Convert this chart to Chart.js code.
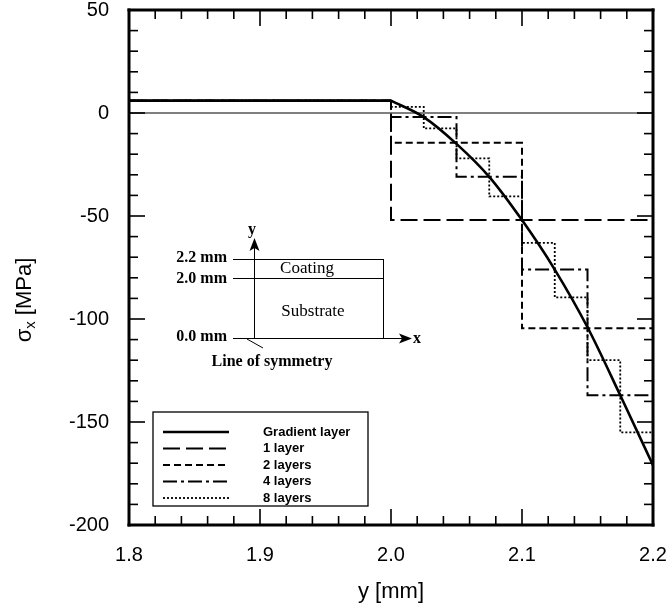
<!DOCTYPE html>
<html>
<head>
<meta charset="utf-8">
<script src="https://cdn.jsdelivr.net/npm/chart.js@4.4.0/dist/chart.umd.min.js"></script>
<style>
  html, body { margin: 0; padding: 0; background: #fff; overflow: hidden; }
  canvas { display: block; }
</style>
</head>
<body>
<canvas id="stressChart" width="668" height="609"></canvas>
<script>
// === DATA ===
const xTicks = [1.8, 1.9, 2.0, 2.1, 2.2];
const yTicks = [50, 0, -50, -100, -150, -200];
const xMinorStep = 0.02;
const yMinorStep = 10;

const substrateX = [1.8, 2.0];
const substrateY = [6, 6];
const zeroX = [1.8, 2.2];
const zeroY = [0, 0];

const gradientX = [2.0, 2.025, 2.05, 2.075, 2.1, 2.125, 2.15, 2.175, 2.2];
const gradientY = [6, -2, -15, -31, -52, -76, -104, -137, -171];

// stress per layer in the coating (2.0 .. 2.2 mm), equal layer thickness
const layer1 = [-52];
const layers2 = [-14.5, -104.5];
const layers4 = [-2, -31, -76, -137];
const layers8 = [3, -7.5, -22, -40.5, -63, -89.5, -120, -155];

const legendLabels = ['Gradient layer', '1 layer', '2 layers', '4 layers', '8 layers'];

// === HELPERS ===
function toPoints(xs, ys) {
    return xs.map((x, i) => ({ x, y: ys[i] }));
}

function stepPoints(vals) {
    const w = 0.2 / vals.length;
    const pts = [{ x: 1.8, y: substrateY[0] }];
    vals.forEach((v, i) => pts.push({ x: 2.0 + i * w, y: v }));
    pts.push({ x: 2.2, y: vals[vals.length - 1] });
    return pts;
}

const FONT = "'Liberation Sans', Arial, sans-serif";
const SERIF = "'Liberation Serif', 'Times New Roman', serif";

// === PLUGINS ===
const framePlugin = {
    id: 'frame',
    afterDraw(chart) {
        const { ctx, scales: { x, y } } = chart;
        const L = x.getPixelForValue(x.min), R = x.getPixelForValue(x.max);
        const T = y.getPixelForValue(y.max), B = y.getPixelForValue(y.min);
        ctx.save();
        ctx.setLineDash([]);
        ctx.fillStyle = '#000';
        const nx = Math.round((x.max - x.min) / xMinorStep);
        for (let i = 0; i <= nx; i++) {
            const px = x.getPixelForValue(x.min + i * xMinorStep);
            const len = i % 5 === 0 ? 16 : 9;
            ctx.fillRect(px - 0.8, B - len, 1.6, len);
            ctx.fillRect(px - 0.8, T, 1.6, len);
        }
        const ny = Math.round((y.max - y.min) / yMinorStep);
        for (let i = 0; i <= ny; i++) {
            const py = y.getPixelForValue(y.min + i * yMinorStep);
            const len = i % 5 === 0 ? 16 : 9;
            ctx.fillRect(L, py - 0.8, len, 1.6);
            ctx.fillRect(R - len, py - 0.8, len, 1.6);
        }
        // frame, 3px, one side at a time
        ctx.fillRect(L - 1.5, T - 1.5, R - L + 3, 3);
        ctx.fillRect(L - 1.5, B - 1.5, R - L + 3, 3);
        ctx.fillRect(L - 1.5, T - 1.5, 3, B - T + 3);
        ctx.fillRect(R - 1.5, T - 1.5, 3, B - T + 3);

        // y axis title with subscript
        ctx.translate(25, 300);
        ctx.rotate(-Math.PI / 2);
        ctx.textBaseline = 'middle';
        ctx.textAlign = 'left';
        const s1 = 'σ', s3 = ' [MPa]';
        ctx.font = `15px ${FONT}`;
        const w2 = ctx.measureText('x').width;
        ctx.font = `22px ${FONT}`;
        const w1 = ctx.measureText(s1).width, w3 = ctx.measureText(s3).width;
        let cx = -(w1 + w2 + w3) / 2;
        ctx.fillText(s1, cx, 0); cx += w1;
        ctx.font = `15px ${FONT}`;
        ctx.fillText('x', cx, 6); cx += w2;
        ctx.font = `22px ${FONT}`;
        ctx.fillText(s3, cx, 0);
        ctx.restore();
    }
};

const legendPlugin = {
    id: 'boxLegend',
    afterDraw(chart) {
        const { ctx } = chart;
        const left = 153, top = 412, right = 368, bottom = 506;
        ctx.save();
        ctx.fillStyle = '#fff';
        ctx.fillRect(left, top, right - left, bottom - top);
        ctx.strokeStyle = '#000';
        ctx.lineWidth = 1.3;
        ctx.strokeRect(left, top, right - left, bottom - top);
        ctx.font = `bold 13px ${FONT}`;
        ctx.fillStyle = '#000';
        ctx.textBaseline = 'middle';
        let row = 0;
        chart.data.datasets.forEach(ds => {
            if (!legendLabels.includes(ds.label)) return;
            const yy = 432 + row * 16.5;
            ctx.beginPath();
            ctx.lineWidth = ds.borderWidth;
            ctx.setLineDash(ds.borderDash || []);
            ctx.moveTo(163, yy); ctx.lineTo(229, yy);
            ctx.stroke();
            ctx.setLineDash([]);
            ctx.fillText(ds.label, 263, yy);
            row++;
        });
        ctx.restore();
    }
};

const insetPlugin = {
    id: 'inset',
    afterDraw(chart) {
        const { ctx } = chart;
        ctx.save();
        ctx.setLineDash([]);
        ctx.strokeStyle = '#000';
        ctx.fillStyle = '#000';
        ctx.lineWidth = 1;
        ctx.strokeRect(254.5, 259.5, 129, 79);
        ctx.beginPath();
        ctx.moveTo(254, 278.5); ctx.lineTo(383, 278.5);
        ctx.moveTo(233, 259.5); ctx.lineTo(254, 259.5);
        ctx.moveTo(233, 278.5); ctx.lineTo(254, 278.5);
        ctx.moveTo(254.5, 338); ctx.lineTo(254.5, 248);
        ctx.moveTo(233, 338.5); ctx.lineTo(402, 338.5);
        ctx.moveTo(247, 339); ctx.lineTo(263, 348);
        ctx.stroke();
        ctx.beginPath();
        ctx.moveTo(254.5, 238); ctx.lineTo(249.5, 251); ctx.lineTo(254.5, 248); ctx.lineTo(259.5, 251);
        ctx.closePath(); ctx.fill();
        ctx.beginPath();
        ctx.moveTo(412, 338.5); ctx.lineTo(399, 333.5); ctx.lineTo(402, 338.5); ctx.lineTo(399, 343.5);
        ctx.closePath(); ctx.fill();

        ctx.textBaseline = 'middle';
        ctx.font = `bold 16px ${SERIF}`;
        ctx.textAlign = 'right';
        ctx.fillText('2.2 mm', 227, 258);
        ctx.fillText('2.0 mm', 227, 279);
        ctx.fillText('0.0 mm', 227, 337);
        ctx.textAlign = 'center';
        ctx.fillText('y', 252, 230);
        ctx.fillText('x', 417, 339);
        ctx.fillText('Line of symmetry', 272, 362);
        ctx.font = `17px ${SERIF}`;
        ctx.fillText('Coating', 307, 269);
        ctx.fillText('Substrate', 313, 312);
        ctx.restore();
    }
};

// === CHART ===
const ctx = document.getElementById('stressChart').getContext('2d');
const common = { borderColor: '#000', pointRadius: 0, fill: false };

new Chart(ctx, {
    type: 'line',
    data: {
        datasets: [
            { ...common, label: 'Gradient layer', data: toPoints(gradientX, gradientY), borderWidth: 2.6, cubicInterpolationMode: 'monotone' },
            { ...common, label: 'substrate', data: toPoints(substrateX, substrateY), borderWidth: 2.6 },
            { ...common, label: '1 layer', data: stepPoints(layer1), stepped: 'before', borderWidth: 2, borderDash: [17, 6] },
            { ...common, label: '2 layers', data: stepPoints(layers2), stepped: 'before', borderWidth: 2, borderDash: [7, 4] },
            { ...common, label: '4 layers', data: stepPoints(layers4), stepped: 'before', borderWidth: 2, borderDash: [14, 4, 3, 4] },
            { ...common, label: '8 layers', data: stepPoints(layers8), stepped: 'before', borderWidth: 1.8, borderDash: [2, 2] },
            { ...common, label: 'zero', data: toPoints(zeroX, zeroY), borderWidth: 1 }
        ]
    },
    options: {
        responsive: false, animation: false, devicePixelRatio: 1,
        layout: { padding: { top: 10, right: 15, left: 0, bottom: 0 } },
        plugins: { legend: { display: false }, tooltip: { enabled: false } },
        scales: {
            x: {
                type: 'linear', min: 1.8, max: 2.2,
                afterBuildTicks: s => { s.ticks = xTicks.map(v => ({ value: v })); },
                afterFit: s => { s.height = 84; s.paddingLeft = 0; s.paddingRight = 0; },
                grid: { display: false, drawTicks: false }, border: { display: false },
                ticks: { color: '#000', font: { family: FONT, size: 20 }, padding: 18, maxRotation: 0, autoSkip: false, callback: v => v.toFixed(1) },
                title: { display: true, text: 'y [mm]', color: '#000', font: { family: FONT, size: 22 }, padding: { top: 0, bottom: 4 } }
            },
            y: {
                type: 'linear', min: -200, max: 50,
                afterBuildTicks: s => { s.ticks = yTicks.map(v => ({ value: v })); },
                afterFit: s => { s.width = 129; s.paddingTop = 0; s.paddingBottom = 0; },
                grid: { display: false, drawTicks: false }, border: { display: false },
                ticks: { color: '#000', font: { family: FONT, size: 20 }, padding: 20, autoSkip: false }
            }
        }
    },
    plugins: [framePlugin, insetPlugin, legendPlugin]
});
</script>
</body>
</html>
